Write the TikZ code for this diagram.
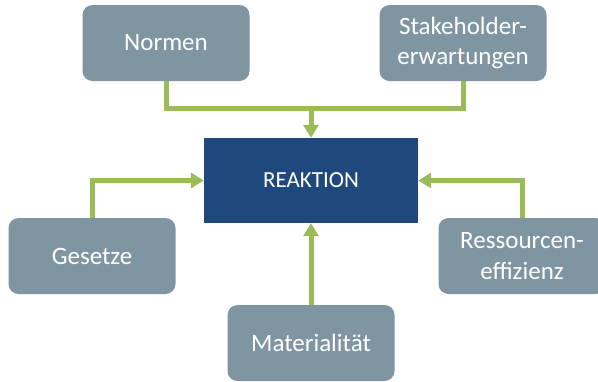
\documentclass[tikz,border=0pt]{standalone}
\usepackage{fontspec}
\setmainfont{Carlito}
\usepackage{xcolor}
\usetikzlibrary{arrows.meta,positioning}

\definecolor{boxgrey}{RGB}{127,150,162}
\definecolor{reactblue}{RGB}{31,73,125}
\definecolor{linkgreen}{RGB}{155,187,89}

\begin{document}
\begin{tikzpicture}[
    x=1pt, y=-1pt,
    box/.style={rectangle, rounded corners=10pt, fill=boxgrey, text=white, minimum width=167pt, minimum height=76pt, align=center, inner sep=0pt, font=\fontsize{25}{30.5}\selectfont},
    core/.style={rectangle, fill=reactblue, text=white, minimum width=214pt, minimum height=85pt, align=center, font=\fontsize{23}{28}\selectfont},
    link/.style={draw=linkgreen, line width=5pt},
    arrow/.style={link, -{Triangle[width=15pt,length=13pt]}}
]
    \useasboundingbox (0,0) rectangle (598,381);

    % Reaction in the middle
    \node[core] (reaktion) at (311,180.5) {REAKTION};

    % Upper sources
    \node[box] (normen) at (166,43) {Normen};
    \node[box] (stake) at (463,43) {Stakeholder-\\erwartungen};

    % Side sources
    \node[box] (gesetze) at (92,256) {Gesetze};
    \node[box] (ressourcen) at (522,256) {Ressourcen-\\effizienz};

    % Lower source
    \node[box] (material) at (311,343) {Materialität};

    % Joint line on top
    \coordinate (join) at (311,108);
    \draw[link] (normen.south) |- (join);
    \draw[link] (stake.south) |- (join);
    \draw[arrow] (join) -- (reaktion.north);

    % Arrows from the sides and below
    \draw[arrow] (gesetze.north) |- (reaktion.west);
    \draw[arrow] (ressourcen.north) |- (reaktion.east);
    \draw[arrow] (material.north) -- (reaktion.south);

\end{tikzpicture}
\end{document}
